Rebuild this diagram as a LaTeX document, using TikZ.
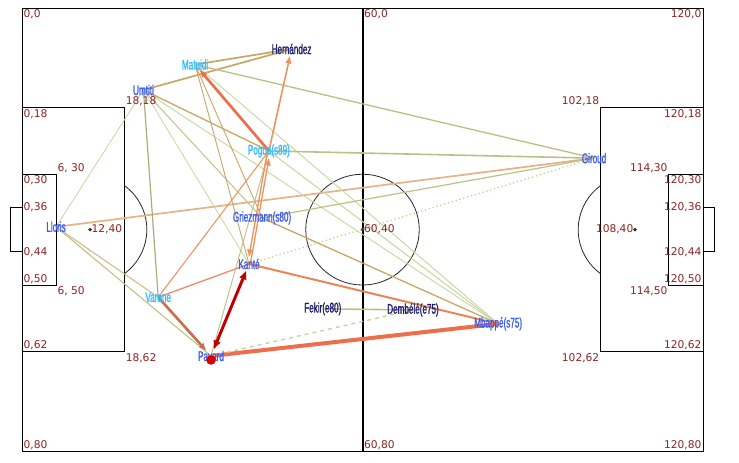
\documentclass[tikz,border=0pt]{standalone}
\usepackage{fontspec}
\usepackage{tikz}
\usetikzlibrary{arrows.meta,backgrounds}
\newfontfamily\plfont[FakeStretch=0.58,FakeBold=1.2]{Liberation Sans}
\newfontfamily\crfont{DejaVu Sans}
\definecolor{crd}{HTML}{8B2323}
\definecolor{ltblue}{HTML}{33BBFF}
\definecolor{midblue}{HTML}{3A5CF0}
\definecolor{navy}{HTML}{1C1C6E}
\definecolor{paleg}{HTML}{C8D7A0}
\definecolor{olive}{HTML}{BCC085}
\definecolor{khaki}{HTML}{C8A868}
\definecolor{tan}{HTML}{E4B488}
\definecolor{orng}{HTML}{EA9460}
\definecolor{tomato}{HTML}{EE6E4C}
\definecolor{sienna}{HTML}{C8704A}
\definecolor{dred}{HTML}{C00000}

\begin{document}
\begin{tikzpicture}[x=4.256pt, y=-4.155pt,
    player/.style={font=\plfont\fontsize{10.5}{11}\selectfont, inner sep=0pt},
    spot/.style={font=\crfont\fontsize{8}{9}\selectfont, text=crd, inner sep=1pt},
    tip/.style={-{Latex[length=6pt,width=5pt]}, shorten >=5pt}]
    \useasboundingbox (-3.877,-1.444) rectangle (126.34,81.95);

    % Players
    \node[player, text=midblue] (lloris) at (6,39.5) {Lloris};
    \node[player, text=midblue] (umtiti) at (21.4,14.8) {Umtiti};
    \node[player, text=ltblue] (matuidi) at (30.5,10.2) {Matuidi};
    \node[player, text=navy] (hernandez) at (47.5,7.4) {Hernández};
    \node[player, text=ltblue] (pogba) at (43.5,25.8) {Pogba(s89)};
    \node[player, text=midblue] (griezmann) at (42.3,37.9) {Griezmann(s80)};
    \node[player, text=midblue] (kante) at (40,46.2) {Kanté};
    \node[player, text=ltblue] (varane) at (24,52.2) {Varane};
    \node[player, text=midblue] (pavard) at (33.3,62.8) {Pavard};
    \node[player, text=navy] (fekir) at (53,54.3) {Fekir(e80)};
    \node[player, text=navy] (dembele) at (68.9,54.5) {Dembélé(e75)};
    \node[player, text=midblue] (mbappe) at (83.9,57) {Mbappé(s75)};
    \node[player, text=midblue] (giroud) at (100.8,27.1) {Giroud};

    % Pitch coordinates
    \node[spot, anchor=north west] (c0) at (0,0) {0,0};
    \node[spot, anchor=north west] (c1) at (60,0) {60,0};
    \node[spot, anchor=north east] (c2) at (120,0) {120,0};
    \node[spot, anchor=north west] (c3) at (0,18) {0,18};
    \node[spot, anchor=south west] (c4) at (18,18) {18,18};
    \node[spot, anchor=south east] (c5) at (102,18) {102,18};
    \node[spot, anchor=north east] (c6) at (120,18) {120,18};
    \node[spot, anchor=south west] (c7) at (6,30) {6, 30};
    \node[spot, anchor=south east] (c8) at (114,30) {114,30};
    \node[spot, anchor=north west] (c9) at (0,30) {0,30};
    \node[spot, anchor=north east] (c10) at (120,30) {120,30};
    \node[spot, anchor=west] (c11) at (0,36) {0,36};
    \node[spot, anchor=east] (c12) at (120,36) {120,36};
    \node[spot, anchor=west] (c13) at (12,40) {12,40};
    \node[spot, anchor=west] (c14) at (60,40) {60,40};
    \node[spot, anchor=east] (c15) at (108,40) {108,40};
    \node[spot, anchor=west] (c16) at (0,44) {0,44};
    \node[spot, anchor=east] (c17) at (120,44) {120,44};
    \node[spot, anchor=south west] (c18) at (0,50) {0,50};
    \node[spot, anchor=south east] (c19) at (120,50) {120,50};
    \node[spot, anchor=north west] (c20) at (6,50) {6, 50};
    \node[spot, anchor=north east] (c21) at (114,50) {114,50};
    \node[spot, anchor=south west] (c22) at (0,62) {0,62};
    \node[spot, anchor=south east] (c23) at (120,62) {120,62};
    \node[spot, anchor=north west] (c24) at (18,62) {18,62};
    \node[spot, anchor=north east] (c25) at (102,62) {102,62};
    \node[spot, anchor=south west] (c26) at (0,80) {0,80};
    \node[spot, anchor=south west] (c27) at (60,80) {60,80};
    \node[spot, anchor=south east] (c28) at (120,80) {120,80};

    \begin{scope}[on background layer]
    % Pitch
    \draw[line width=0.75pt] (0,0) rectangle (120,80);
    \draw[line width=1.5pt] (60,0) -- (60,80);
    \draw[line width=0.75pt] (0,18) rectangle (18,62) (0,30) rectangle (6,50) (-2,36) rectangle (0,44);
    \draw[line width=0.75pt] (102,18) rectangle (120,62) (114,30) rectangle (120,50) (120,36) rectangle (122,44);
    \draw[line width=0.6pt, black!85] (60,40) circle[radius=10];
    \draw[line width=0.6pt, black!85] (12,40) ++(-53.13:10) arc[start angle=-53.13, end angle=53.13, radius=10];
    \draw[line width=0.6pt, black!85] (108,40) ++(126.87:10) arc[start angle=126.87, end angle=233.13, radius=10];
    \fill[black!80] (12,40) circle[radius=0.35] (60,40) circle[radius=0.35] (108,40) circle[radius=0.35];

    % Passes
    \draw[paleg, line width=0.6pt] (lloris.center) -- (umtiti.center);
    \draw[tan, line width=1.3pt] (lloris.center) -- (giroud.center);
    \draw[khaki!80, line width=0.8pt] (lloris.center) -- (varane.center);
    \draw[olive, line width=0.8pt] (lloris.center) -- (pavard.center);
    \draw[khaki, line width=1.3pt] (umtiti.center) -- (hernandez.center);
    \draw[khaki, line width=1.3pt] (matuidi.center) -- (hernandez.center);
    \draw[olive, line width=1pt] (matuidi.center) -- (giroud.center);
    \draw[khaki, line width=1pt] (umtiti.center) -- (pogba.center);
    \draw[olive!90!black, line width=0.9pt] (umtiti.center) -- (varane.center);
    \draw[paleg, line width=0.6pt] (umtiti.center) -- (kante.center);
    \draw[olive, line width=0.7pt] (umtiti.center) -- (griezmann.center);
    \draw[paleg, line width=0.7pt] (umtiti.center) -- (mbappe.center);
    \draw[paleg, line width=0.7pt] (matuidi.center) -- (pogba.center);
    \draw[khaki, line width=0.7pt] (matuidi.center) -- (kante.center);
    \draw[khaki, line width=0.7pt] (matuidi.center) -- (griezmann.center);
    \draw[paleg, line width=0.7pt] (matuidi.center) -- (mbappe.center);
    \draw[olive, line width=1.2pt] (pogba.center) -- (giroud.center);
    \draw[olive, line width=0.9pt] (griezmann.center) -- (giroud.center);
    \draw[paleg!80!olive, line width=1pt, dotted] (kante.center) -- (giroud.center);
    \draw[orng, line width=0.8pt] (pogba.center) -- (varane.center);
    \draw[olive, line width=0.7pt] (pavard.center) -- (pogba.center);
    \draw[paleg, line width=0.8pt] (pogba.center) -- (mbappe.center);
    \draw[khaki, line width=1pt] (griezmann.center) -- (mbappe.center);
    \draw[tomato!80, line width=1pt] (varane.center) -- (kante.center);
    \draw[orng!90!red, line width=1.5pt] (kante.center) -- (mbappe.center);
    \draw[tomato, line width=3pt] (pavard.center) -- (mbappe.center);
    \draw[paleg!80!olive, line width=1pt, dashed] (pavard.center) -- (dembele.center);
    \draw[olive, line width=1.2pt] (fekir.center) -- (dembele.center);

    % Passes with arrows
    \draw[tomato, line width=2pt, tip] (pogba.center) -- (matuidi.center);
    \draw[orng, line width=1.2pt, tip] (pogba.center) -- (hernandez.center);
    \draw[orng, line width=1pt, tip] ([xshift=1pt]kante.center) -- ([xshift=1pt]pogba.center);
    \draw[orng, line width=1pt, tip] ([xshift=-1pt]pogba.center) -- ([xshift=-1pt]kante.center);
    \draw[sienna, line width=2pt, tip] (varane.center) -- (pavard.center);
    \draw[dred, line width=2.2pt, {Latex[length=7pt,width=6pt]}-{Latex[length=7pt,width=6pt]}, shorten <=5pt, shorten >=5pt] (pavard.center) -- (kante.center);
    \end{scope}

    % Ball carrier
    \fill[red!85!black] ([yshift=-3pt]pavard.center) circle[radius=3.6pt];
\end{tikzpicture}
\end{document}
